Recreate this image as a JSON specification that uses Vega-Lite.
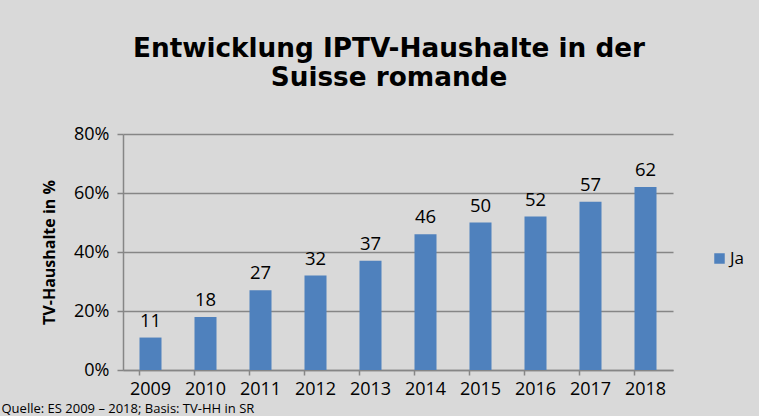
{
  "$schema": "https://vega.github.io/schema/vega-lite/v6.json",
  "autosize": {"type": "none"},
  "width": 550,
  "height": 236,
  "padding": {"left": 123, "top": 134, "right": 86, "bottom": 46},
  "background": "#d9d9d9",
  "title": {
    "text": ["Entwicklung IPTV-Haushalte in der", "Suisse romande"],
    "font": "DejaVu Sans",
    "fontSize": 26.3,
    "fontWeight": "bold",
    "color": "#000000",
    "anchor": "middle",
    "dx": -9,
    "lineHeight": 29,
    "offset": 34
  },
  "config": {
    "view": {"stroke": null},
    "font": "Open Sans"
  },
  "data": {
    "values": [
      {"Jahr": "2009", "Anteil": 11, "Serie": "Ja"},
      {"Jahr": "2010", "Anteil": 18, "Serie": "Ja"},
      {"Jahr": "2011", "Anteil": 27, "Serie": "Ja"},
      {"Jahr": "2012", "Anteil": 32, "Serie": "Ja"},
      {"Jahr": "2013", "Anteil": 37, "Serie": "Ja"},
      {"Jahr": "2014", "Anteil": 46, "Serie": "Ja"},
      {"Jahr": "2015", "Anteil": 50, "Serie": "Ja"},
      {"Jahr": "2016", "Anteil": 52, "Serie": "Ja"},
      {"Jahr": "2017", "Anteil": 57, "Serie": "Ja"},
      {"Jahr": "2018", "Anteil": 62, "Serie": "Ja"}
    ]
  },
  "encoding": {
    "x": {
      "field": "Jahr",
      "type": "nominal",
      "scale": {"paddingInner": 0.6, "paddingOuter": 0.3},
      "axis": {
        "title": "Quelle: ES 2009 – 2018; Basis: TV-HH in SR",
        "titleFont": "Open Sans",
        "titleFontSize": 13,
        "titleFontWeight": "normal",
        "titleColor": "#000000",
        "titleAnchor": "start",
        "titleAlign": "left",
        "titleBaseline": "alphabetic",
        "titleX": -122,
        "titleY": 42,
        "labelAngle": 0,
        "labelFontSize": 18,
        "labelColor": "#000000",
        "labelPadding": 5,
        "bandPosition": 0,
        "tickSize": 5,
        "tickColor": "#868686",
        "domainColor": "#868686",
        "tickWidth": 1.5,
        "domainWidth": 1.5
      }
    },
    "y": {
      "field": "Anteil",
      "type": "quantitative",
      "scale": {"domain": [0, 80]},
      "axis": {
        "title": "TV-Haushalte in %",
        "titleFont": "Open Sans",
        "titleFontSize": 16,
        "titleFontWeight": "bold",
        "titleColor": "#000000",
        "titlePadding": 16,
        "values": [0, 20, 40, 60, 80],
        "labelExpr": "datum.value + '%'",
        "labelFontSize": 18,
        "labelColor": "#000000",
        "labelPadding": 8,
        "tickSize": 6,
        "tickColor": "#868686",
        "domainColor": "#868686",
        "gridColor": "#868686",
        "tickWidth": 1.5,
        "domainWidth": 1.5,
        "gridWidth": 1.5
      }
    }
  },
  "layer": [
    {
      "mark": {"type": "bar", "color": "#4f81bd"},
      "encoding": {
        "color": {
          "field": "Serie",
          "type": "nominal",
          "scale": {"range": ["#4f81bd"]},
          "legend": {
            "title": null,
            "orient": "none",
            "legendX": 588,
            "legendY": 116,
            "symbolType": "square",
            "symbolSize": 110,
            "symbolStrokeWidth": 0,
            "labelFontSize": 17,
            "labelColor": "#000000",
            "labelOffset": 2
          }
        }
      }
    },
    {
      "mark": {"type": "text", "baseline": "bottom", "dy": -7, "fontSize": 18.5, "color": "#000000"},
      "encoding": {"text": {"field": "Anteil", "type": "quantitative"}}
    }
  ]
}
